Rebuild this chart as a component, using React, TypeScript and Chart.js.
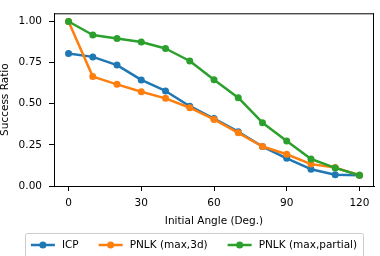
import React, { useEffect, useRef } from "react";
import { Chart, registerables } from "chart.js";

Chart.register(...registerables);

const angles = [0, 10, 20, 30, 40, 50, 60, 70, 80, 90, 100, 110, 120];
const icp = [0.805, 0.785, 0.735, 0.645, 0.578, 0.485, 0.41, 0.33, 0.24, 0.168, 0.102, 0.068, 0.065];
const pnlk3d = [1.0, 0.665, 0.618, 0.573, 0.533, 0.476, 0.405, 0.323, 0.24, 0.193, 0.133, 0.112, 0.065];
const pnlkPartial = [1.0, 0.918, 0.897, 0.876, 0.836, 0.76, 0.646, 0.537, 0.385, 0.273, 0.164, 0.11, 0.065];

const seriesLabels = ["ICP", "PNLK (max,3d)", "PNLK (max,partial)"];
const seriesColors = ["#1f77b4", "#ff7f0e", "#2ca02c"];
const xTicks = [0, 30, 60, 90, 120];
const yTicks = [0, 0.25, 0.5, 0.75, 1.0];
const xTitle = "Initial Angle (Deg.)";
const yTitle = "Success Ratio";

const FONT = "'DejaVu Sans', sans-serif";
const FS = 10.5;

const framePlugin = {
  id: "frame",
  afterDatasetsDraw(chart: any) {
    const { ctx, chartArea } = chart;
    ctx.save();
    ctx.strokeStyle = "#000";
    ctx.lineWidth = 1;
    ctx.beginPath();
    ctx.moveTo(chartArea.left, chartArea.top + 0.5);
    ctx.lineTo(chartArea.right, chartArea.top + 0.5);
    ctx.moveTo(chartArea.right - 0.5, chartArea.top);
    ctx.lineTo(chartArea.right - 0.5, chartArea.bottom);
    ctx.stroke();
    ctx.restore();
  },
};

const legendPlugin = {
  id: "mplLegend",
  afterDraw(chart: any) {
    const { ctx } = chart;
    ctx.save();
    ctx.font = `${FS}px ${FONT}`;
    const handle = 24;
    const textPad = 7;
    const colSpace = 20;
    const borderPad = 6;
    const widths = seriesLabels.map((l) => ctx.measureText(l).width);
    const total =
      widths.reduce((a, b) => a + b, 0) + seriesLabels.length * (handle + textPad) + colSpace * (seriesLabels.length - 1);
    const boxW = total + borderPad * 2;
    const cx = 194;
    const boxL = cx - boxW / 2;
    const boxT = 233.5;
    const boxH = 26;
    const cy = 245;
    ctx.fillStyle = "rgba(255,255,255,0.8)";
    ctx.strokeStyle = "#cccccc";
    ctx.lineWidth = 1;
    ctx.beginPath();
    const r = 2;
    const x0 = Math.round(boxL) + 0.5;
    const y0 = boxT;
    const x1 = x0 + Math.round(boxW);
    const y1 = y0 + boxH;
    ctx.moveTo(x0 + r, y0);
    ctx.lineTo(x1 - r, y0);
    ctx.arcTo(x1, y0, x1, y0 + r, r);
    ctx.lineTo(x1, y1 - r);
    ctx.arcTo(x1, y1, x1 - r, y1, r);
    ctx.lineTo(x0 + r, y1);
    ctx.arcTo(x0, y1, x0, y1 - r, r);
    ctx.lineTo(x0, y0 + r);
    ctx.arcTo(x0, y0, x0 + r, y0, r);
    ctx.closePath();
    ctx.fill();
    ctx.stroke();
    let x = boxL + borderPad;
    seriesLabels.forEach((label, i) => {
      const color = seriesColors[i];
      ctx.strokeStyle = color;
      ctx.lineWidth = 2.5;
      ctx.beginPath();
      ctx.moveTo(x, cy);
      ctx.lineTo(x + handle, cy);
      ctx.stroke();
      ctx.fillStyle = color;
      ctx.beginPath();
      ctx.arc(x + handle / 2, cy, 3.5, 0, Math.PI * 2);
      ctx.fill();
      ctx.fillStyle = "#000";
      ctx.textAlign = "left";
      ctx.textBaseline = "middle";
      ctx.fillText(label, x + handle + textPad, cy);
      x += handle + textPad + widths[i] + colSpace;
    });
    ctx.restore();
  },
};

export default function App() {
  const ref = useRef<HTMLCanvasElement | null>(null);
  useEffect(() => {
    if (!ref.current) return;
    const seriesData = [icp, pnlk3d, pnlkPartial];
    const chart = new Chart(ref.current, {
      type: "line",
      data: {
        datasets: seriesData.map((vals, i) => ({
          label: seriesLabels[i],
          data: angles.map((a, j) => ({ x: a, y: vals[j] })),
          borderColor: seriesColors[i],
          backgroundColor: seriesColors[i],
          pointBackgroundColor: seriesColors[i],
          pointBorderColor: seriesColors[i],
          borderWidth: 2.5,
          pointRadius: 3.5,
          pointBorderWidth: 0,
          borderJoinStyle: "round" as const,
          tension: 0,
          fill: false,
          order: 2 - i,
        })),
      },
      options: {
        animation: false,
        responsive: false,
        devicePixelRatio: 1,
        layout: { padding: { top: 6, right: 6, bottom: 28, left: 0 } },
        plugins: { legend: { display: false }, tooltip: { enabled: false } },
        scales: {
          x: {
            type: "linear",
            min: -6,
            max: 126,
            afterBuildTicks: (s: any) => {
              s.ticks = xTicks.map((v) => ({ value: v }));
            },
            afterFit: (s: any) => {
              s.height = 42;
            },
            ticks: {
              color: "#000",
              font: { family: FONT, size: FS },
              padding: 6,
              maxRotation: 0,
              callback: (v: any) => String(v),
            },
            grid: { drawOnChartArea: false, drawTicks: true, tickLength: 5, color: "#000", tickWidth: 1 },
            border: { display: true, color: "#000", width: 1 },
            title: {
              display: true,
              text: xTitle,
              color: "#000",
              font: { family: FONT, size: FS, lineHeight: 1.2 },
              padding: 0,
            },
          },
          y: {
            type: "linear",
            min: 0,
            max: 1.05,
            afterBuildTicks: (s: any) => {
              s.ticks = yTicks.map((v) => ({ value: v }));
            },
            afterFit: (s: any) => {
              s.width = 54;
            },
            ticks: {
              color: "#000",
              font: { family: FONT, size: FS },
              padding: 7,
              callback: (v: any) => Number(v).toFixed(2),
            },
            grid: { drawOnChartArea: false, drawTicks: true, tickLength: 5, color: "#000", tickWidth: 1 },
            border: { display: true, color: "#000", width: 1 },
            title: {
              display: true,
              text: yTitle,
              color: "#000",
              font: { family: FONT, size: FS, lineHeight: 1 },
              padding: 0,
            },
          },
        },
      },
      plugins: [framePlugin, legendPlugin],
    });
    return () => chart.destroy();
  }, []);
  return (
    <div style={{ position: "absolute", left: 0, top: 0, width: 380, height: 256, background: "#fff" }}>
      <canvas ref={ref} width={380} height={256} style={{ width: 380, height: 256, display: "block" }} />
    </div>
  );
}
